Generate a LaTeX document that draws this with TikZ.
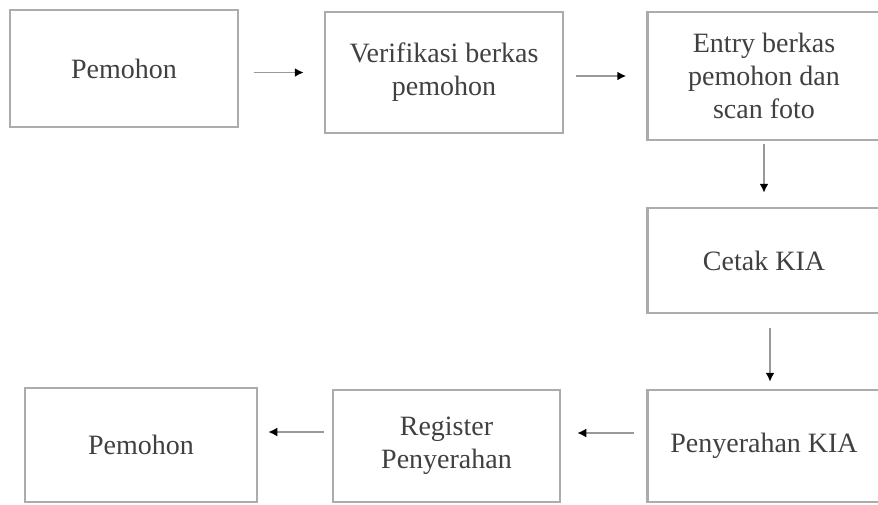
\documentclass[tikz,border=0pt]{standalone}
\usepackage{fontspec}
\setmainfont{Liberation Serif}
\usetikzlibrary{arrows.meta}
\usetikzlibrary{positioning}
\tikzset{
	kotak/.style={draw=gray!65, line width=2.5pt, rectangle, align=center,
		text=black!75, font=\fontsize{28}{33}\selectfont, inner sep=0pt},
	panah/.style={draw=gray!80, line width=1.8pt,
		-{Latex[length=9pt,width=9pt,black]}}
}
\begin{document}
\begin{tikzpicture}[x=1pt,y=-1pt]
		\useasboundingbox (0,0) rectangle (878,504);

		\node[kotak, minimum width=228pt, minimum height=117pt](A) at (124,68.5){Pemohon};
		\node[kotak, minimum width=238pt, minimum height=121pt](B) at (444,72.5){Verifikasi berkas\\pemohon};
		\node[kotak, minimum width=233pt, minimum height=128pt](C) at (764,76){Entry berkas\\pemohon dan\\scan foto};

		\node[kotak, minimum width=233pt, minimum height=105pt](D) at (764,260.5){Cetak KIA};
		\node[kotak, minimum width=233pt, minimum height=112pt](E) at (764,446){Penyerahan KIA};

		\node[kotak, minimum width=227pt, minimum height=112pt](F) at (446.5,446){Register\\Penyerahan};
		\node[kotak, minimum width=232pt, minimum height=114pt](G) at (141,445){Pemohon};

		\draw[panah, shorten <=15pt, shorten >=20pt] (A.east |- B.west) -- (B.west);
		\draw[panah, shorten <=12pt, shorten >=20pt] (B.east |- C.west) -- (C.west);
		\draw[panah, shorten <=3pt, shorten >=14pt] (C.south) -- (D.north);
		\draw[panah, shorten <=14pt, shorten >=7pt] ([xshift=6pt]D.south) -- ([xshift=6pt]E.north);
		\draw[panah, shorten <=12pt, shorten >=16pt] ([yshift=13pt]E.west) -- ([yshift=13pt]F.east);
		\draw[panah, shorten <=8pt, shorten >=10pt] ([yshift=14pt]F.west) -- ([yshift=14pt]F.west -| G.east);
	\end{tikzpicture}
\end{document}
